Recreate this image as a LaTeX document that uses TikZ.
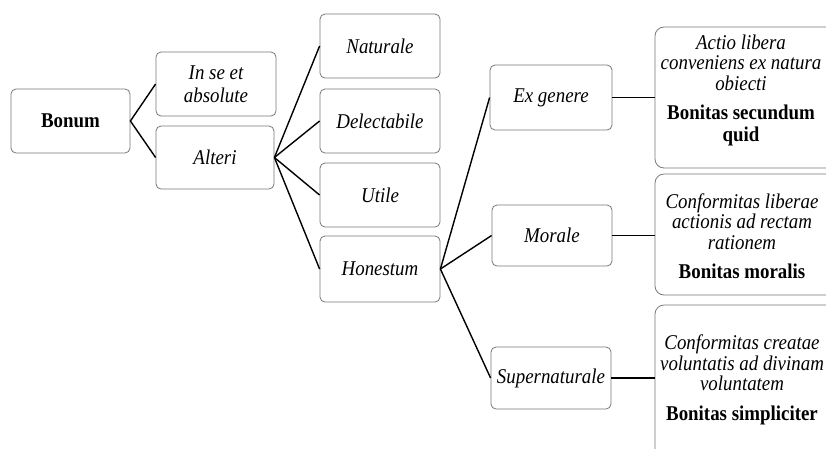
\documentclass[tikz,border=0pt]{standalone}
\usepackage{fontspec}
\setmainfont[FakeStretch=0.9]{Liberation Serif}
\definecolor{boxgray}{RGB}{120,120,120}
\newcommand{\bline}[1]{\textup{\textbf{#1}}}
\begin{document}
\begin{tikzpicture}[x=1pt,y=-1pt,
  box/.style={draw=boxgray, rounded corners=5pt, line width=0.8pt,
    minimum width=120pt, minimum height=64pt, inner sep=2pt, align=center,
    font=\fontsize{21}{23}\selectfont\itshape},
  rbox/.style={draw=boxgray, rounded corners=9pt, line width=0.8pt,
    minimum width=180pt, inner sep=0pt},
  rtext/.style={align=center, inner sep=0pt, font=\fontsize{21}{20.5}\selectfont\itshape},
  conn/.style={line width=1.4pt}]
\useasboundingbox (0,0) rectangle (826,448);
\clip (0,0) rectangle (826,448);
\fill[white] (0,0) rectangle (826,448);
% column 1
\node[box, minimum width=119pt, font=\fontsize{21}{23}\selectfont\bfseries] (bonum) at (70.5,121) {Bonum};
% column 2
\node[box] (inse) at (216,84) {In se et\\absolute};
\node[box, minimum width=118pt, minimum height=63pt] (alteri) at (215,157.5) {Alteri};
% column 3
\node[box] (nat) at (380,46) {Naturale};
\node[box] (del) at (380,121) {Delectabile};
\node[box] (uti) at (380,195) {Utile};
\node[box, minimum height=66pt] (hon) at (380,269) {Honestum};
% column 4
\node[box, minimum width=122pt, minimum height=65pt] (exg) at (551,97.5) {Ex genere};
\node[box, minimum height=61pt] (mor) at (552,235.5) {Morale};
\node[box, minimum height=62pt] (sup) at (551,378) {Supernaturale};
% column 5
\node[rbox, minimum height=141pt] (r1) at (745,97.5) {};
\node[rbox, minimum height=121pt] (r2) at (745,234.5) {};
\node[rbox, minimum height=155pt] (r3) at (745,382.5) {};
\node[rtext] (t1) at (741,90) {Actio libera\\conveniens ex natura\\obiecti\\[9pt]\bline{Bonitas secundum}\\[1pt]\bline{quid}};
\node[rtext] (t2) at (742,236) {Conformitas liberae\\actionis ad rectam\\rationem\\[9pt]\bline{Bonitas moralis}};
\node[rtext] (t3) at (742,380) {Conformitas creatae\\voluntatis ad divinam\\voluntatem\\[9pt]\bline{Bonitas simpliciter}};
% connectors
\draw[conn] (inse.west) -- (bonum.east) -- (alteri.west);
\foreach \n in {nat,del,uti,hon} \draw[conn] (alteri.east) -- (\n.west);
\foreach \n in {exg,mor,sup} \draw[conn] (hon.east) -- (\n.west);
\draw[conn] (exg.east) -- (exg.east -| r1.west);
\draw[conn] (mor.east) -- (mor.east -| r2.west);
\draw[conn] (sup.east) -- (sup.east -| r3.west);
\end{tikzpicture}
\end{document}
